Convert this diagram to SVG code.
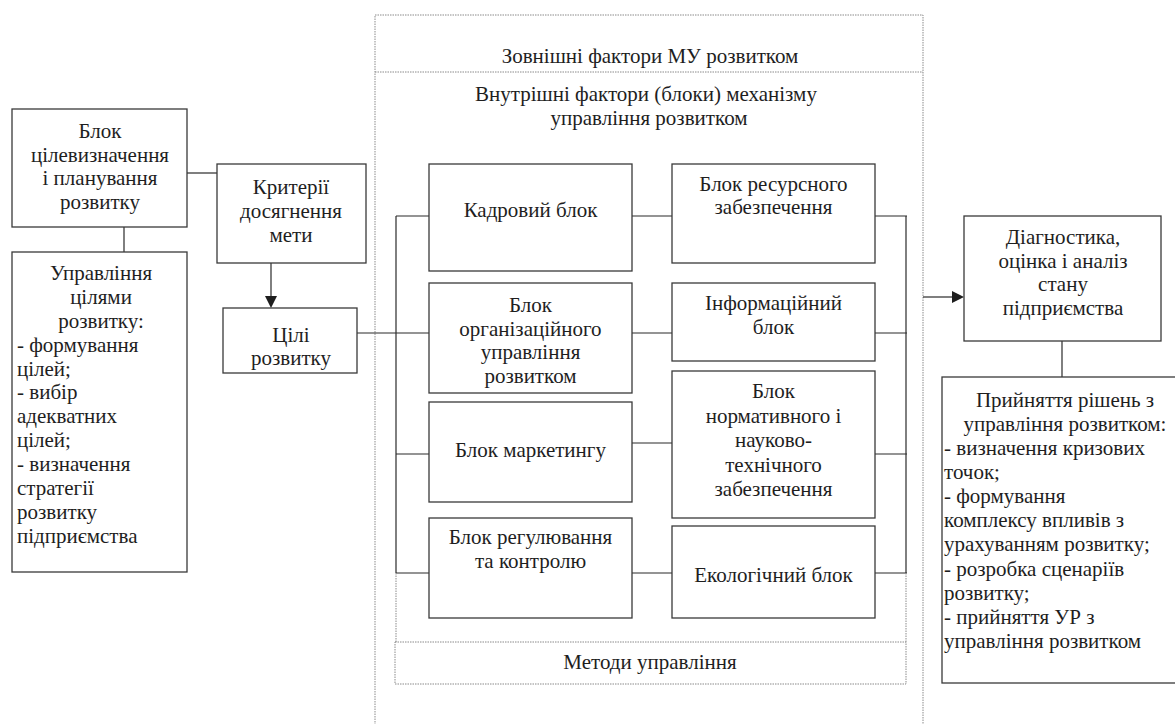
<svg xmlns="http://www.w3.org/2000/svg" width="1175" height="724" viewBox="0 0 1175 724">
<style>
.b{fill:#fff;stroke:#3a3a3a;stroke-width:1.3}
.d{fill:none;stroke:#8a8a8a;stroke-width:1;stroke-dasharray:1.5 1}
.c{fill:none;stroke:#2a2a2a;stroke-width:1.2}
.h{fill:#1e1e1e;stroke:none}
</style>
<rect width="1175" height="724" fill="#fff"/>

<g id="outer-frame">
<path class="d" d="M375,740 V15 H923 V740"/>
<path class="d" d="M375,72 H923"/>
<text text-anchor="middle" x="650" y="63" style="font-family:Times New Roman;font-size:21px;fill:#1e1e1e">Зовнішні фактори МУ розвитком</text>
<text text-anchor="middle" x="646" y="101" style="font-family:Times New Roman;font-size:21px;fill:#1e1e1e">Внутрішні фактори (блоки) механізму</text>
<text text-anchor="middle" x="649" y="125" style="font-family:Times New Roman;font-size:21px;fill:#1e1e1e">управління розвитком</text>
</g>

<g id="connectors">
<path class="c" d="M187,173 H217"/>
<path class="c" d="M124,227 V252"/>
<path class="c" d="M271,263 V297"/>
<path class="h" d="M265,296 L277,296 L271,308 Z"/>
<path class="c" d="M357,333 H396"/>
<path class="c" d="M396,216 V573"/>
<path class="c" d="M396,216 H429 M396,333 H429 M396,454 H429 M396,573 H429"/>
<path class="c" d="M632,216 H672 M632,333 H672 M632,443 H672 M632,573 H672"/>
<path class="c" d="M875,216 H907 M875,333 H907 M875,454 H907 M875,573 H907"/>
<path class="c" d="M906,216 V573"/>
<path class="d" d="M396,573 V642 M906,573 V642"/>
<path class="c" d="M923,297 H953"/>
<path class="h" d="M952,291 L964,297 L952,303 Z"/>
<path class="c" d="M1062,341 V377"/>
</g>

<g id="blok-tsilevyznachennia">
<rect class="b" x="12" y="109" width="175" height="118"/>
<text text-anchor="middle" x="100" y="138" style="font-family:Times New Roman;font-size:21px;fill:#1e1e1e">Блок</text>
<text text-anchor="middle" x="100" y="161.5" style="font-family:Times New Roman;font-size:21px;fill:#1e1e1e">цілевизначення</text>
<text text-anchor="middle" x="100" y="185" style="font-family:Times New Roman;font-size:21px;fill:#1e1e1e">і планування</text>
<text text-anchor="middle" x="100" y="208.5" style="font-family:Times New Roman;font-size:21px;fill:#1e1e1e">розвитку</text>
</g>

<g id="upravlinnia-tsiliamy">
<rect class="b" x="12" y="252" width="175" height="320"/>
<text text-anchor="middle" x="101" y="280" style="font-family:Times New Roman;font-size:21px;fill:#1e1e1e">Управління</text>
<text text-anchor="middle" x="101" y="304" style="font-family:Times New Roman;font-size:21px;fill:#1e1e1e">цілями</text>
<text text-anchor="middle" x="101" y="328" style="font-family:Times New Roman;font-size:21px;fill:#1e1e1e">розвитку:</text>
<text x="17" y="352" style="font-family:Times New Roman;font-size:21px;fill:#1e1e1e">- формування</text>
<text x="17" y="375.5" style="font-family:Times New Roman;font-size:21px;fill:#1e1e1e">цілей;</text>
<text x="17" y="399" style="font-family:Times New Roman;font-size:21px;fill:#1e1e1e">- вибір</text>
<text x="17" y="423" style="font-family:Times New Roman;font-size:21px;fill:#1e1e1e">адекватних</text>
<text x="17" y="447" style="font-family:Times New Roman;font-size:21px;fill:#1e1e1e">цілей;</text>
<text x="17" y="471" style="font-family:Times New Roman;font-size:21px;fill:#1e1e1e">- визначення</text>
<text x="17" y="495" style="font-family:Times New Roman;font-size:21px;fill:#1e1e1e">стратегії</text>
<text x="17" y="519" style="font-family:Times New Roman;font-size:21px;fill:#1e1e1e">розвитку</text>
<text x="17" y="543" style="font-family:Times New Roman;font-size:21px;fill:#1e1e1e">підприємства</text>
</g>

<g id="kryterii">
<rect class="b" x="217" y="164" width="149" height="99"/>
<text text-anchor="middle" x="291" y="194" style="font-family:Times New Roman;font-size:21px;fill:#1e1e1e">Критерії</text>
<text text-anchor="middle" x="291" y="218" style="font-family:Times New Roman;font-size:21px;fill:#1e1e1e">досягнення</text>
<text text-anchor="middle" x="291" y="242" style="font-family:Times New Roman;font-size:21px;fill:#1e1e1e">мети</text>
</g>

<g id="tsili-rozvytku">
<rect class="b" x="223" y="308" width="134" height="65"/>
<text text-anchor="middle" x="291" y="342" style="font-family:Times New Roman;font-size:21px;fill:#1e1e1e">Цілі</text>
<text text-anchor="middle" x="291" y="365" style="font-family:Times New Roman;font-size:21px;fill:#1e1e1e">розвитку</text>
</g>

<g id="kadrovyi">
<rect class="b" x="429" y="164" width="203" height="107"/>
<text text-anchor="middle" x="530.5" y="217" style="font-family:Times New Roman;font-size:21px;fill:#1e1e1e">Кадровий блок</text>
</g>

<g id="resursnyi">
<rect class="b" x="672" y="164" width="203" height="99"/>
<text text-anchor="middle" x="773.5" y="191" style="font-family:Times New Roman;font-size:21px;fill:#1e1e1e">Блок ресурсного</text>
<text text-anchor="middle" x="773.5" y="214" style="font-family:Times New Roman;font-size:21px;fill:#1e1e1e">забезпечення</text>
</g>

<g id="orhanizatsiinyi">
<rect class="b" x="429" y="283" width="203" height="110"/>
<text text-anchor="middle" x="530.5" y="312" style="font-family:Times New Roman;font-size:21px;fill:#1e1e1e">Блок</text>
<text text-anchor="middle" x="530.5" y="335.5" style="font-family:Times New Roman;font-size:21px;fill:#1e1e1e">організаційного</text>
<text text-anchor="middle" x="530.5" y="359" style="font-family:Times New Roman;font-size:21px;fill:#1e1e1e">управління</text>
<text text-anchor="middle" x="530.5" y="382.5" style="font-family:Times New Roman;font-size:21px;fill:#1e1e1e">розвитком</text>
</g>

<g id="informatsiinyi">
<rect class="b" x="672" y="283" width="203" height="78"/>
<text text-anchor="middle" x="773.5" y="310" style="font-family:Times New Roman;font-size:21px;fill:#1e1e1e">Інформаційний</text>
<text text-anchor="middle" x="773.5" y="334" style="font-family:Times New Roman;font-size:21px;fill:#1e1e1e">блок</text>
</g>

<g id="normatyvnyi">
<rect class="b" x="672" y="371" width="203" height="147"/>
<text text-anchor="middle" x="773.5" y="398" style="font-family:Times New Roman;font-size:21px;fill:#1e1e1e">Блок</text>
<text text-anchor="middle" x="773.5" y="422.5" style="font-family:Times New Roman;font-size:21px;fill:#1e1e1e">нормативного і</text>
<text text-anchor="middle" x="773.5" y="447" style="font-family:Times New Roman;font-size:21px;fill:#1e1e1e">науково-</text>
<text text-anchor="middle" x="773.5" y="471.5" style="font-family:Times New Roman;font-size:21px;fill:#1e1e1e">технічного</text>
<text text-anchor="middle" x="773.5" y="496" style="font-family:Times New Roman;font-size:21px;fill:#1e1e1e">забезпечення</text>
</g>

<g id="marketynh">
<rect class="b" x="429" y="402" width="203" height="100"/>
<text text-anchor="middle" x="530.5" y="457" style="font-family:Times New Roman;font-size:21px;fill:#1e1e1e">Блок маркетингу</text>
</g>

<g id="rehuliuvannia">
<rect class="b" x="429" y="518" width="203" height="100"/>
<text text-anchor="middle" x="530.5" y="544" style="font-family:Times New Roman;font-size:21px;fill:#1e1e1e">Блок регулювання</text>
<text text-anchor="middle" x="530.5" y="568" style="font-family:Times New Roman;font-size:21px;fill:#1e1e1e">та контролю</text>
</g>

<g id="ekolohichnyi">
<rect class="b" x="672" y="526" width="203" height="92"/>
<text text-anchor="middle" x="773.5" y="582" style="font-family:Times New Roman;font-size:21px;fill:#1e1e1e">Екологічний блок</text>
</g>

<g id="metody">
<rect class="d" x="395" y="642" width="511" height="42"/>
<text text-anchor="middle" x="650" y="669" style="font-family:Times New Roman;font-size:21px;fill:#1e1e1e">Методи управління</text>
</g>

<g id="diahnostyka">
<rect class="b" x="964" y="216" width="197" height="125"/>
<text text-anchor="middle" x="1063" y="244" style="font-family:Times New Roman;font-size:21px;fill:#1e1e1e">Діагностика,</text>
<text text-anchor="middle" x="1063" y="267.5" style="font-family:Times New Roman;font-size:21px;fill:#1e1e1e">оцінка і аналіз</text>
<text text-anchor="middle" x="1063" y="291" style="font-family:Times New Roman;font-size:21px;fill:#1e1e1e">стану</text>
<text text-anchor="middle" x="1063" y="314.5" style="font-family:Times New Roman;font-size:21px;fill:#1e1e1e">підприємства</text>
</g>

<g id="pryiniattia">
<rect class="b" x="942" y="377" width="246" height="306"/>
<text text-anchor="middle" x="1065" y="407" style="font-family:Times New Roman;font-size:21px;fill:#1e1e1e">Прийняття рішень з</text>
<text text-anchor="middle" x="1065" y="431" style="font-family:Times New Roman;font-size:21px;fill:#1e1e1e">управління розвитком:</text>
<text x="944" y="455" style="font-family:Times New Roman;font-size:21px;fill:#1e1e1e">- визначення кризових</text>
<text x="944" y="479" style="font-family:Times New Roman;font-size:21px;fill:#1e1e1e">точок;</text>
<text x="944" y="503" style="font-family:Times New Roman;font-size:21px;fill:#1e1e1e">- формування</text>
<text x="944" y="527" style="font-family:Times New Roman;font-size:21px;fill:#1e1e1e">комплексу впливів з</text>
<text x="944" y="551" style="font-family:Times New Roman;font-size:21px;fill:#1e1e1e">урахуванням розвитку;</text>
<text x="944" y="575.5" style="font-family:Times New Roman;font-size:21px;fill:#1e1e1e">- розробка сценаріїв</text>
<text x="944" y="600" style="font-family:Times New Roman;font-size:21px;fill:#1e1e1e">розвитку;</text>
<text x="944" y="624" style="font-family:Times New Roman;font-size:21px;fill:#1e1e1e">- прийняття УР з</text>
<text x="944" y="648" style="font-family:Times New Roman;font-size:21px;fill:#1e1e1e">управління розвитком</text>
</g>
</svg>
